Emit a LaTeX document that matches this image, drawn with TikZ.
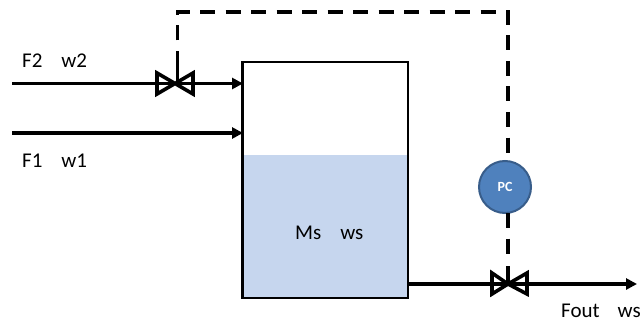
\documentclass[tikz,border=0pt]{standalone}
\usepackage{fontspec}
\setmainfont{Carlito}
\usetikzlibrary{arrows.meta}
\tikzset{
  pipe/.style={line width=3.4pt,-{Triangle[length=11pt,width=11pt]}},
  signal/.style={line width=3.6pt,dash pattern=on 15pt off 10.5pt},
  bowtie/.style={line width=3.6pt,line join=miter,miter limit=4},
  lbl/.style={font=\fontsize{21}{23}\selectfont,inner sep=0pt,anchor=base west},
}
\begin{document}
\begin{tikzpicture}[x=1pt,y=-1pt]
\useasboundingbox (0,0) rectangle (643,321);
% tank
\fill[fill={rgb,255:red,198;green,214;blue,238}] (242.5,155) rectangle (408,298);
\node[draw,line width=2.6pt,outer sep=0pt,minimum width=165.5pt,minimum height=236pt,inner sep=0pt,anchor=north west] (tank) at (242.5,62) {};
% free ends and valve centres
\coordinate (f2start) at (12,83.5);
\coordinate (f1start) at (12,133);
\coordinate (f2end) at (243,83.5);
\coordinate (f1end) at (243,133);
\coordinate (v1) at (175,83.5);
\coordinate (v2) at (508,284);
\coordinate (outstart) at (408,284);
\coordinate (outend) at (637,284);
\coordinate (c1) at (177.5,12);
\coordinate (c2) at (508,12);
% pipes
\draw[pipe] (f2start) -- (f2end);
\draw[pipe] (f1start) -- (f1end);
\draw[pipe] (outstart) -- (outend);
% controller
\node[circle,draw={rgb,255:red,56;green,93;blue,138},line width=2pt,fill={rgb,255:red,79;green,129;blue,189},minimum size=52pt,inner sep=0pt,text=white,font=\fontsize{14}{16}\selectfont\bfseries] (pc) at (505,187) {PC};
% signal lines
\draw[signal] (177.5,66) -- (c1) -- (c2) -- (508,161);
\draw[signal] (508,213) -- (508,256);
\draw[line width=3.6pt] (177.5,66) -- (177.5,83);
\draw[line width=3.6pt] (508,266) -- (508,284);
% valves
\draw[bowtie] (v1) -- (157,73) -- (157,94) -- (v1) -- (193,73) -- (193,94) -- cycle;
\draw[bowtie] (v2) -- (492,273) -- (492,294) -- (v2) -- (527,273) -- (527,294) -- cycle;
% labels
\node[lbl] (f2) at (22,67) {F2\hspace{19pt}w2};
\node[lbl] (f1) at (22,167.5) {F1\hspace{19pt}w1};
\node[lbl] (ms) at (295,239) {Ms\hspace{19pt}ws};
\node[lbl] (fout) at (561,317) {Fout\hspace{18pt}ws};
\end{tikzpicture}
\end{document}
